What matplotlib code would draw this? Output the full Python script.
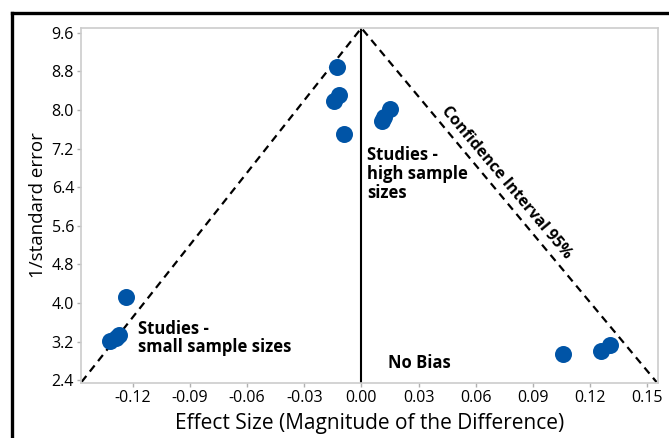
import matplotlib
matplotlib.use('Agg')
import matplotlib.pyplot as plt
from matplotlib.lines import Line2D

plt.rcParams['font.family'] = ['Open Sans', 'DejaVu Sans']

# study points (effect size, 1/standard error)
effect = [-0.0128, -0.0146, -0.0119, -0.0093, 0.0109, 0.0117, 0.0152,
          -0.1236, -0.1319, -0.1290, -0.1275, 0.1058, 0.1256, 0.1308]
inv_se = [8.90, 8.18, 8.31, 7.50, 7.77, 7.86, 8.02,
          4.12, 3.22, 3.27, 3.33, 2.94, 3.01, 3.13]

# funnel (95% CI) outline: left end, apex, right end
funnel_x = [-0.147, 0.0, 0.155]
funnel_y = [2.36, 9.70, 2.36]

xticks = [-0.12, -0.09, -0.06, -0.03, 0.00, 0.03, 0.06, 0.09, 0.12, 0.15]
yticks = [2.4, 3.2, 4.0, 4.8, 5.6, 6.4, 7.2, 8.0, 8.8, 9.6]

fig = plt.figure(figsize=(6.69, 4.38), dpi=100)
ax = fig.add_axes([0.121, 0.1256, 0.8626, 0.8104])

ax.plot(funnel_x, funnel_y, color='black', lw=1.6, ls=(0, (3.5, 2.5)),
        zorder=2)
ax.plot([0, 0], [2.3, funnel_y[1]], color='black', lw=1.5, zorder=2)
ax.scatter(effect, inv_se, s=150, color='#0054a6', zorder=3, lw=0)

ax.set_xlim(-0.1473, 0.1558)
ax.set_ylim(2.34, 9.70)
ax.set_xticks(xticks)
ax.set_xticklabels(['%.2f' % t for t in xticks])
ax.set_yticks(yticks)
ax.set_yticklabels(['%.1f' % t for t in yticks])
ax.tick_params(labelsize=11.5, color='#b0b0b0', length=3, width=1, pad=2)
for s in ax.spines.values():
    s.set_color('#cccccc')
    s.set_linewidth(1.2)

ax.set_xlabel('Effect Size (Magnitude of the Difference)', fontsize=15,
              labelpad=5)
ax.set_ylabel('1/standard error', fontsize=13.5, labelpad=3)

ax.text(-0.1172, 3.27, 'Studies -\nsmall sample sizes', fontsize=12,
        fontweight='bold', va='center', ha='left', linespacing=1.05)
ax.text(0.0032, 6.67, 'Studies -\nhigh sample\nsizes', fontsize=12,
        fontweight='bold', va='center', ha='left', linespacing=1.05)
ax.text(0.0142, 2.75, 'No Bias', fontsize=12, fontweight='bold',
        va='center', ha='left')
ax.text(0.0762, 6.49, 'Confidence Interval 95%', fontsize=11.5,
        fontweight='bold', rotation=-50, va='center', ha='center',
        rotation_mode='anchor')

# outer frame (left and top edges visible)
fig.add_artist(Line2D([0.018, 0.018], [0, 0.970], color='black', lw=2.4,
                      transform=fig.transFigure))
fig.add_artist(Line2D([0.018, 1.0], [0.970, 0.970], color='black', lw=2.4,
                      transform=fig.transFigure))

fig.savefig('out.png', dpi=100)
